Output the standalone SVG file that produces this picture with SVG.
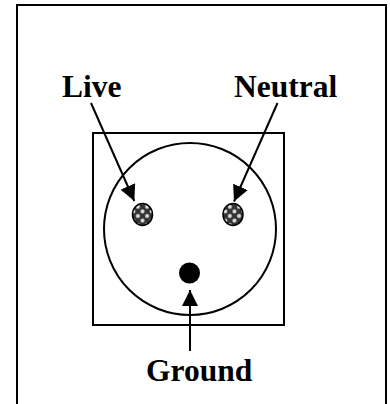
<svg xmlns="http://www.w3.org/2000/svg" width="390" height="404" viewBox="0 0 390 404">
<style>
.s{fill:none;stroke:#000;stroke-width:2}
.t{font:bold 31.500px "Liberation Serif",serif;fill:#000}
.c{stroke:#000;stroke-width:2;fill:none}
</style>
<defs>
<pattern id="p" width="6.500" height="6.500" patternUnits="userSpaceOnUse" patternTransform="rotate(45)">
<rect width="6.500" height="6.500" fill="#333"/>
<circle cx="3.250" cy="3.250" r="2" fill="#ddd"/>
</pattern>
<marker id="a" markerUnits="userSpaceOnUse" markerWidth="18" markerHeight="16" refX="16" refY="8" orient="auto">
<path d="M0 0L16 8L0 16Z" fill="#000"/>
</marker>
</defs>
<rect width="390" height="404" fill="#fff"/>
<g id="frame"><rect x="17" y="5" width="369" height="410" class="s"/></g>
<g id="socket"><rect x="93" y="133" width="191" height="192" class="s"/><circle cx="190" cy="229" r="86" class="s"/></g>
<g id="live-pin"><ellipse cx="142.500" cy="214.500" rx="10" ry="11" fill="url(#p)" stroke="#000" stroke-width="1.500"/></g>
<g id="neutral-pin"><ellipse cx="233" cy="214.500" rx="10" ry="11" fill="url(#p)" stroke="#000" stroke-width="1.500"/></g>
<g id="ground-pin"><circle cx="189.500" cy="273" r="10.500" fill="#000"/></g>
<g id="connectors">
<line x1="91" y1="103" x2="134.300" y2="201" class="c" marker-end="url(#a)"/>
<line x1="277.500" y1="103" x2="234" y2="201.500" class="c" marker-end="url(#a)"/>
<line x1="190" y1="351" x2="190" y2="290" class="c" marker-end="url(#a)"/>
</g>
<g id="label-live"><text x="62" y="97" class="t">Live</text></g>
<g id="label-neutral"><text x="234" y="97" class="t">Neutral</text></g>
<g id="label-ground"><text x="146" y="381" class="t">Ground</text></g>
</svg>
